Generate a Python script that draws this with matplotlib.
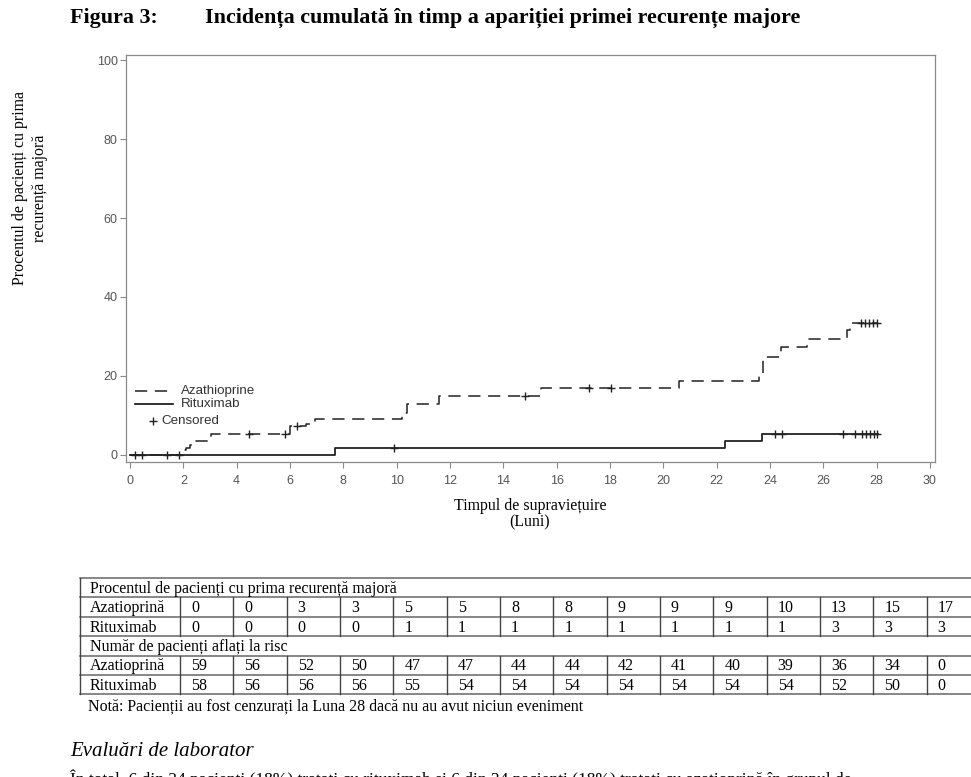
import matplotlib
matplotlib.use('Agg')
import matplotlib.pyplot as plt
from matplotlib.lines import Line2D
import numpy as np

# ---------------- data ----------------
azt_t = [0, 2.0, 2.1, 2.25, 2.4, 3.05, 6.0, 6.6, 6.95, 10.2, 10.4, 11.6, 15.4, 20.6, 23.6, 23.75, 24.4, 25.4, 26.9, 27.0]
azt_y = [0, 1.2, 1.8, 2.5, 3.4, 5.2, 7.2, 7.8, 9.0, 10.6, 12.9, 14.9, 16.9, 18.8, 20.8, 24.9, 27.3, 29.3, 31.6, 33.5]
azt_cens = [0.2, 0.45, 1.4, 1.85, 4.45, 5.8, 6.25, 14.8, 17.2, 18.05, 27.4, 27.55, 27.7, 27.85, 28.0]

rit_t = [0, 7.7, 22.3, 23.7]
rit_y = [0, 1.7, 3.4, 5.2]
rit_cens = [9.9, 24.2, 24.45, 26.75, 27.2, 27.45, 27.6, 27.75, 27.9, 28.0]
t_end = 28.05

x_ticks = list(range(0, 31, 2))
y_ticks = [0, 20, 40, 60, 80, 100]

tbl_az_pct = [0, 0, 3, 3, 5, 5, 8, 8, 9, 9, 9, 10, 13, 15, 17]
tbl_rit_pct = [0, 0, 0, 0, 1, 1, 1, 1, 1, 1, 1, 1, 3, 3, 3]
tbl_az_risk = [59, 56, 52, 50, 47, 47, 44, 44, 42, 41, 40, 39, 36, 34, 0]
tbl_rit_risk = [58, 56, 56, 56, 55, 54, 54, 54, 54, 54, 54, 54, 52, 50, 0]

# ---------------- figure ----------------
W, H = 971, 777
fig = plt.figure(figsize=(W / 100, H / 100), dpi=100)
SERIF = 'Liberation Serif'
SANS = 'Liberation Sans'

ov = fig.add_axes([0, 0, 1, 1])
ov.set_xlim(0, W)
ov.set_ylim(H, 0)
ov.axis('off')

def pxrect(x0, y0, x1, y1):
    return [x0 / W, 1 - y1 / H, (x1 - x0) / W, (y1 - y0) / H]

ax = fig.add_axes(pxrect(126, 55, 935, 462))
ax.set_xlim(-0.15, 30.19)
ax.set_ylim(-1.8, 101.3)

line_col = '#222222'

def step_xy(t, y):
    return list(t) + [t_end], list(y) + [y[-1]]

def cens_y(t, y, c):
    idx = np.searchsorted(np.array(t), np.array(c), side='right') - 1
    return np.array(y)[idx]

rx, ry = step_xy(rit_t, rit_y)
ax.step(rx, ry, where='post', color=line_col, lw=1.3)
ax.plot(rit_cens, cens_y(rit_t, rit_y, rit_cens), linestyle='none', marker='+',
        ms=6, mew=1.0, color=line_col)

axx, ayy = step_xy(azt_t, azt_y)
ax.step(axx, ayy, where='post', color=line_col, lw=1.1, linestyle=(0, (8, 5)))
ax.plot(azt_cens, cens_y(azt_t, azt_y, azt_cens), linestyle='none', marker='+',
        ms=6, mew=1.0, color=line_col)

ax.set_xticks(x_ticks)
ax.set_yticks(y_ticks)
for sp in ax.spines.values():
    sp.set_color('#8a8a8a')
    sp.set_linewidth(0.9)
ax.tick_params(direction='out', length=4.5, width=0.8, color='#8a8a8a',
               labelcolor='#555555', labelsize=9, pad=1.5)
ax.tick_params(axis='x', pad=5)
for lab in ax.get_xticklabels() + ax.get_yticklabels():
    lab.set_fontfamily(SANS)

# legend (manual)
def afx(px):
    return (px - 126) / 809.0

def afy(py):
    return (462 - py) / 407.0

ax.add_line(Line2D([afx(135), afx(173)], [afy(390.7)] * 2, transform=ax.transAxes,
                   color=line_col, lw=1.1, linestyle=(0, (8, 5))))
ax.text(afx(181), afy(390.7), 'Azathioprine', transform=ax.transAxes, va='center',
        ha='left', fontsize=9.6, family=SANS, color='#333333')
ax.add_line(Line2D([afx(135), afx(173)], [afy(404.3)] * 2, transform=ax.transAxes,
                   color=line_col, lw=1.3))
ax.text(afx(181), afy(404.3), 'Rituximab', transform=ax.transAxes, va='center',
        ha='left', fontsize=9.6, family=SANS, color='#333333')
ax.plot([afx(153)], [afy(420.7)], transform=ax.transAxes, marker='+', ms=6,
        mew=1.0, color=line_col, linestyle='none')
ax.text(afx(161), afy(420.7), 'Censored', transform=ax.transAxes, va='center',
        ha='left', fontsize=9.6, family=SANS, color='#333333')

# titles and axis labels
ov.text(70, 18, 'Figura 3:', fontsize=15.8, fontweight='bold', family=SERIF,
        ha='left', va='center')
ov.text(205, 18, 'Incidența cumulată în timp a apariției primei recurențe majore',
        fontsize=15.8, fontweight='bold', family=SERIF, ha='left', va='center')
ov.text(30, 188, 'Procentul de pacienți cu prima\nrecurență majoră', rotation=90,
        fontsize=11.4, family=SERIF, ha='center', va='center', multialignment='center',
        linespacing=1.4)
ov.text(530, 514, 'Timpul de supraviețuire\n(Luni)', fontsize=11.4, family=SERIF,
        ha='center', va='center', multialignment='center', linespacing=1.05)

# table
tx0 = 80
c0 = 180
cw = 53.33
top = 578
rh = 19.4
ncol = len(tbl_az_pct)
tcol = '#444444'
fs_t = 11.5

rows = [top + i * rh for i in range(7)]
for yv in rows:
    ov.plot([tx0, W], [yv, yv], color='#666666', lw=1.1)
ov.plot([tx0, tx0], [rows[0], rows[6]], color=tcol, lw=1.0)
for k in range(ncol):
    xv = c0 + k * cw
    for (ya, yb) in [(rows[1], rows[3]), (rows[4], rows[6])]:
        ov.plot([xv, xv], [ya, yb], color=tcol, lw=1.0)

def txt_row(r, s, x):
    ov.text(x, (rows[r] + rows[r + 1]) / 2 + 1, s, fontsize=fs_t, family=SERIF,
            ha='left', va='center')

def row_text(r, label, vals):
    txt_row(r, label, tx0 + 10)
    for k, v in enumerate(vals):
        txt_row(r, str(v), c0 + k * cw + 11)

txt_row(0, 'Procentul de pacienți cu prima recurență majoră', tx0 + 10)
row_text(1, 'Azatioprină', tbl_az_pct)
row_text(2, 'Rituximab', tbl_rit_pct)
txt_row(3, 'Număr de pacienți aflați la risc', tx0 + 10)
row_text(4, 'Azatioprină', tbl_az_risk)
row_text(5, 'Rituximab', tbl_rit_risk)

ov.text(tx0 + 8, 706, 'Notă: Pacienții au fost cenzurați la Luna 28 dacă nu au avut niciun eveniment',
        fontsize=11.5, family=SERIF, ha='left', va='center')

ov.text(70, 752, 'Evaluări de laborator', fontsize=15, family=SERIF, style='italic',
        ha='left', va='center')
ov.text(70, 770, 'În total, 6 din 34 pacienți (18%) tratați cu rituximab și 6 din 34 pacienți (18%) tratați cu azatioprină în grupul de',
        fontsize=12.5, family=SERIF, ha='left', va='top', clip_on=False)

fig.savefig('out.png', dpi=100)
